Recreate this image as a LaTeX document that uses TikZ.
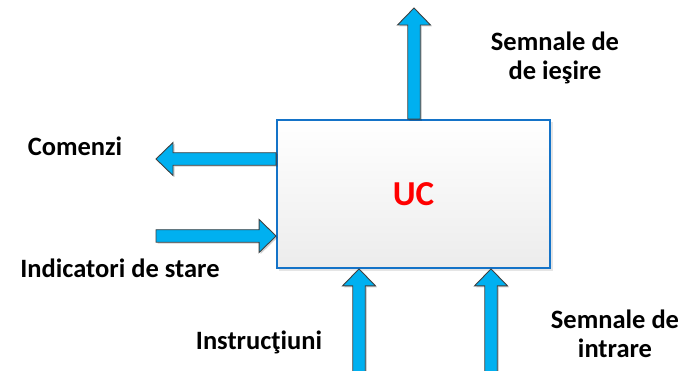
\documentclass[tikz,border=0pt]{standalone}
\usepackage{fontspec}
\setmainfont{Carlito}
\usetikzlibrary{calc}

\definecolor{arrowcyan}{HTML}{00B0F0}
\definecolor{arrowedge}{HTML}{404040}
\definecolor{boxedge}{HTML}{1473C8}
\definecolor{boxbottom}{HTML}{ECECEC}
\definecolor{ucred}{HTML}{FF0000}

% Fat block arrow from #1 (tail) to #2 (tip)
\newcommand{\blockarrow}[2]{%
  \path let \p1=(#1), \p2=(#2) in
    \pgfextra{\pgfmathsetmacro\baang{atan2(\y2-\y1,\x2-\x1)}%
              \pgfmathsetmacro\balen{veclen(\x2-\x1,\y2-\y1)}%
              \xdef\baang{\baang}\xdef\balen{\balen}};
  \begin{scope}[shift={(#1)}, xshift=1.5pt, yshift=-1.5pt, rotate=\baang]
    \fill[arrowshadow] (0,6.25) -- (\balen-17,6.25) -- (\balen-17,16.5) -- (\balen,0)
      -- (\balen-17,-16.5) -- (\balen-17,-6.25) -- (0,-6.25) -- cycle;
  \end{scope}
  \begin{scope}[shift={(#1)}, rotate=\baang]
    \filldraw[arrowbody] (0,6.25) -- (\balen-17,6.25) -- (\balen-17,16.5) -- (\balen,0)
      -- (\balen-17,-16.5) -- (\balen-17,-6.25) -- (0,-6.25) -- cycle;
  \end{scope}}

\tikzset{
  arrowbody/.style={fill=arrowcyan, draw=arrowedge, line width=0.9pt, line join=miter},
  arrowshadow/.style={fill=black, opacity=0.18},
  ucbox/.style={draw=boxedge, line width=1.8pt, top color=white, bottom color=boxbottom,
    minimum width=273pt, minimum height=148pt, inner sep=0pt,
    font=\fontsize{35}{40}\selectfont\bfseries, text=ucred},
  lbl/.style={font=\fontsize{26.5}{29}\selectfont\bfseries, align=center, inner sep=0pt}
}

\begin{document}
\begin{tikzpicture}[x=1pt, y=-1pt]
  \clip (0,0) rectangle (688,371);
  \fill[white] (0,0) rectangle (688,371);

  % soft shadow under the control unit
  \fill[black, opacity=0.10] (279,122) rectangle (553,271);

  % control unit
  \node[ucbox] (uc) at (413.5,194) {UC};

  % free ends of the signal arrows
  \coordinate (outTip) at (414,8);
  \coordinate (cmdTip) at (156,159);
  \coordinate (stTail) at (156,236);
  \coordinate (insTail) at (359,385);
  \coordinate (inTail) at (491,385);

  \blockarrow{uc.north -| outTip}{outTip}
  \blockarrow{uc.west |- cmdTip}{cmdTip}
  \blockarrow{stTail}{uc.west |- stTail}
  \blockarrow{insTail}{uc.south -| insTail}
  \blockarrow{inTail}{uc.south -| inTail}

  % labels
  \node[lbl] (outLbl) at (555,57.5) {Semnale de\\de ieşire};
  \node[lbl] (cmdLbl) at (75,146) {Comenzi};
  \node[lbl] (stLbl) at (120,268) {Indicatori de stare};
  \node[lbl] (insLbl) at (259,342) {Instrucţiuni};
  \node[lbl] (inLbl) at (615,334) {Semnale de\\intrare};
\end{tikzpicture}
\end{document}
